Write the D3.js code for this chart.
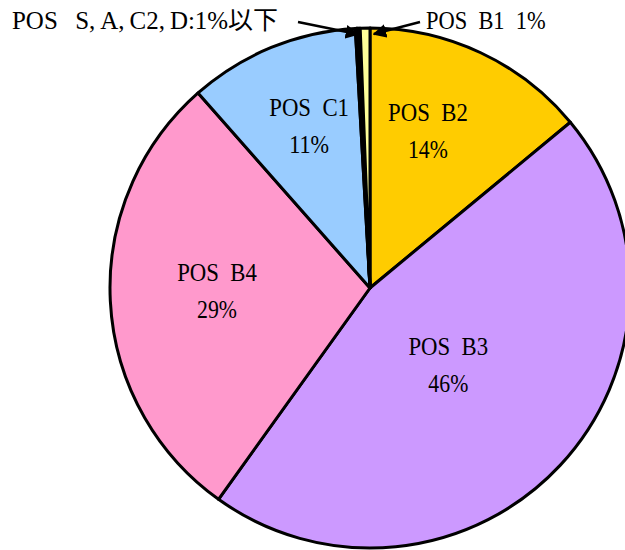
<!DOCTYPE html>
<html>
<head>
<meta charset="utf-8">
<script src="https://cdn.jsdelivr.net/npm/d3@7"></script>
<style>
  html, body { margin: 0; padding: 0; background: #fff; }
  svg { display: block; }
  text { white-space: pre; }
</style>
</head>
<body>
<svg id="chart" width="625" height="550"></svg>
<script>
// Share of records by POS grade (percent), clockwise from 12 o'clock
const categories = ["POS B2", "POS B3", "POS B4", "POS C1", "POS S", "POS A", "POS C2", "POS D", "POS B1"];
const shares     = [14.0, 45.9, 28.6, 10.6, 0.08, 0.07, 0.08, 0.07, 0.6];
const colors     = ["#FFCC00", "#CC99FF", "#FF99CC", "#99CCFF", "#000000", "#000000", "#000000", "#000000", "#FFFF99"];

// Grades whose label sits inside the slice
const insideLabels = ["POS B2", "POS B3", "POS B4", "POS C1"];
// Grades grouped under one outside callout
const smallGroup = ["POS S", "POS A", "POS C2", "POS D"];

const W = 625, H = 550;
const cx = 370, cy = 288, R = 260;

const svg = d3.select("#chart");
const g = svg.append("g").attr("transform", `translate(${cx},${cy})`);

const data = categories.map((c, i) => ({ cat: c, v: shares[i], color: colors[i] }));
const total = d3.sum(shares);
const pct = v => Math.round(v / total * 100);

const pie = d3.pie().sort(null).value(d => d.v).startAngle(0).endAngle(2 * Math.PI);
const arcs = pie(data);
const arc = d3.arc().innerRadius(0).outerRadius(R);

g.selectAll("path.slice")
  .data(arcs)
  .join("path")
  .attr("class", "slice")
  .attr("d", arc)
  .attr("fill", d => d.data.color)
  .attr("stroke", "#000")
  .attr("stroke-width", 3)
  .attr("stroke-linejoin", "round");

// Text fitted to a fixed grid: half-width characters take one cell,
// full-width characters two, as in a Mincho face
const FONT = "'Liberation Serif', 'Noto Sans CJK JP', serif";
const FS = 25;
const CELL = 13.3;
const isWide = ch => ch.charCodeAt(0) >= 0x2E80;
const cells = s => Array.from(s).reduce((n, ch) => n + (isWide(ch) ? 2 : 1), 0);
// widen spaces and the gap after commas so the proportional face reads like a grid
const spaced = s => s.replace(/  /g, "\u2002\u2009").replace(/ /g, "\u2002").replace(/,/g, ",\u2009");

function label(x, y, text, anchor) {
  return svg.append("text")
    .attr("x", x).attr("y", y)
    .attr("text-anchor", anchor || "middle")
    .attr("dominant-baseline", "central")
    .attr("font-family", FONT)
    .attr("font-size", FS)
    .attr("fill", "#000")
    .attr("textLength", cells(text) * CELL)
    .attr("lengthAdjust", "spacingAndGlyphs")
    .text(spaced(text));
}

// Label anchors for the inside labels: polar offsets (angle in degrees, radius) from centre
const labelPolar = {
  "POS B2": [20.3, 167],
  "POS B3": [134.6, 110],
  "POS B4": [268.9, 153],
  "POS C1": [339.4, 173]
};
const LINE = 37;
arcs.filter(a => insideLabels.includes(a.data.cat)).forEach(a => {
  const [deg, r] = labelPolar[a.data.cat];
  const th = deg * Math.PI / 180;
  const x = cx + r * Math.sin(th);
  const y = cy - r * Math.cos(th);
  label(x, y - LINE / 2, a.data.cat);
  label(x, y + LINE / 2, pct(a.data.v) + "%");
});

// Callouts with arrowheads
const defs = svg.append("defs");
defs.append("marker")
  .attr("id", "arrow")
  .attr("viewBox", "0 0 10 10")
  .attr("refX", 9).attr("refY", 5)
  .attr("markerWidth", 5.5).attr("markerHeight", 5.5)
  .attr("markerUnits", "strokeWidth")
  .attr("orient", "auto")
  .append("path")
  .attr("d", "M0,0 L10,5 L0,10 Z")
  .attr("fill", "#000");

function callout(arcDatum, x0, y0) {
  const mid = (arcDatum.startAngle + arcDatum.endAngle) / 2;
  const r = R - 6;
  const x1 = cx + r * Math.sin(mid), y1 = cy - r * Math.cos(mid);
  svg.append("line")
    .attr("x1", x0).attr("y1", y0)
    .attr("x2", x1).attr("y2", y1)
    .attr("stroke", "#000")
    .attr("stroke-width", 2.5)
    .attr("marker-end", "url(#arrow)");
}

const b1 = arcs.find(a => a.data.cat === "POS B1");
// B1 callout points just past the top of the pie
const b1Target = { startAngle: b1.endAngle, endAngle: b1.endAngle + 0.03 };
callout(b1Target, 420, 22);
label(426, 20, `${b1.data.cat} ${pct(b1.data.v)}%`, "start");

const grp = arcs.filter(a => smallGroup.includes(a.data.cat));
const grpArc = { startAngle: d3.min(grp, a => a.startAngle), endAngle: d3.max(grp, a => a.endAngle) };
callout(grpArc, 298, 22);
const grpText = "POS  " + smallGroup.map(s => s.replace("POS ", "")).join(",") + ":" + 1 + "%以下";
label(278, 20, grpText, "end");
</script>
</body>
</html>
